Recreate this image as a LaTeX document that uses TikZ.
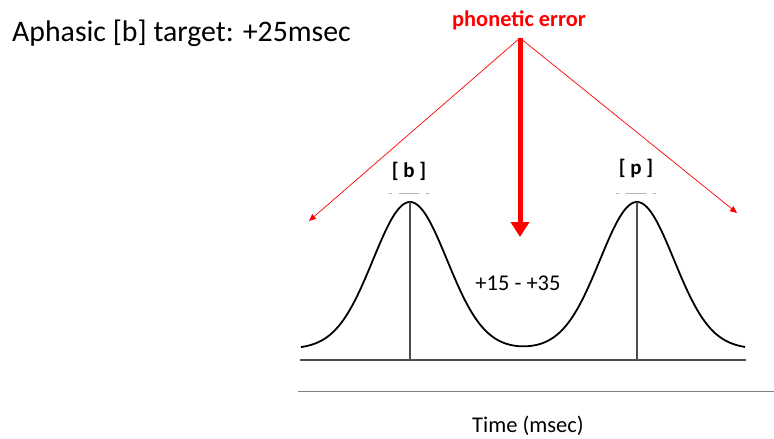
\documentclass[tikz,border=0pt]{standalone}
\usepackage{fontspec}
\setmainfont{Carlito}
\usetikzlibrary{arrows.meta}
\definecolor{errred}{HTML}{FF0000}
\definecolor{axisgrey}{HTML}{4D4D4D}
\newcommand{\bellpair}[2]{%
  \draw[black, line width=1.8pt, samples=200, smooth, domain=301:745]
    plot (\x, {349 - 147*(exp(-0.5*((\x-#1)/37)^2) + exp(-0.5*((\x-#2)/37)^2))});
}

\begin{document}
\begin{tikzpicture}[x=1pt, y=-1pt]
  \useasboundingbox (0,0) rectangle (774,439);

  % ---------- Title and error label ----------
  \node[anchor=base west, inner sep=0pt, font=\fontsize{29.8}{34}\selectfont] (title) at (12,41)
    {Aphasic [b] target: +25msec};
  \node[anchor=base, inner sep=0pt, text=errred, font=\fontsize{22.4}{26}\selectfont\bfseries] (err) at (519,26)
    {phonetic error};
  \coordinate (apex) at (520,38);
  \coordinate (tipl) at (309,221);
  \coordinate (tipr) at (737,213);
  \coordinate (tipm) at (520,237);

  % ---------- Arrows ----------
  \draw[errred, line width=0.7pt, -{Triangle[length=7pt, width=6pt]}] (apex) -- (tipl);
  \draw[errred, line width=0.7pt, -{Triangle[length=7pt, width=6pt]}] (apex) -- (tipr);
  \draw[errred, line width=5pt, -{Triangle[length=15pt, width=18pt]}] (apex) -- (tipm);

  % ---------- Curve and axes ----------
  \bellpair{410}{637}
  \coordinate (peakb) at (410,202);
  \coordinate (peakp) at (637,202);
  \coordinate (axl) at (300,360);
  \coordinate (axr) at (746,360);
  \draw[axisgrey, line width=2pt] (axl) -- (axr);
  \draw[axisgrey, line width=2pt] (peakb) -- (peakb |- axl);
  \draw[axisgrey, line width=2pt] (peakp) -- (peakp |- axl);
  \coordinate (lowl) at (298,391);
  \coordinate (lowr) at (774,391);
  \draw[gray, line width=0.9pt] (lowl) -- (lowr);

  % ---------- Labels ----------
  \node[font=\fontsize{21}{24}\selectfont\bfseries] (labb) at (409,171) {[ b ]};
  \node[font=\fontsize{21}{24}\selectfont\bfseries] (labp) at (636,168) {[ p ]};
  \draw[gray!60, line width=0.8pt, dash pattern=on 3pt off 7pt on 20pt off 7pt on 3pt] (389,193) -- (429,193);
  \draw[gray!60, line width=0.8pt, dash pattern=on 3pt off 7pt on 20pt off 7pt on 3pt] (616,193) -- (656,193);
  \node[font=\fontsize{22.5}{26}\selectfont] (range) at (518,283) {+15 - +35};
  \node[anchor=base, font=\fontsize{22.5}{26}\selectfont] (time) at (528,432) {Time (msec)};
\end{tikzpicture}
\end{document}
